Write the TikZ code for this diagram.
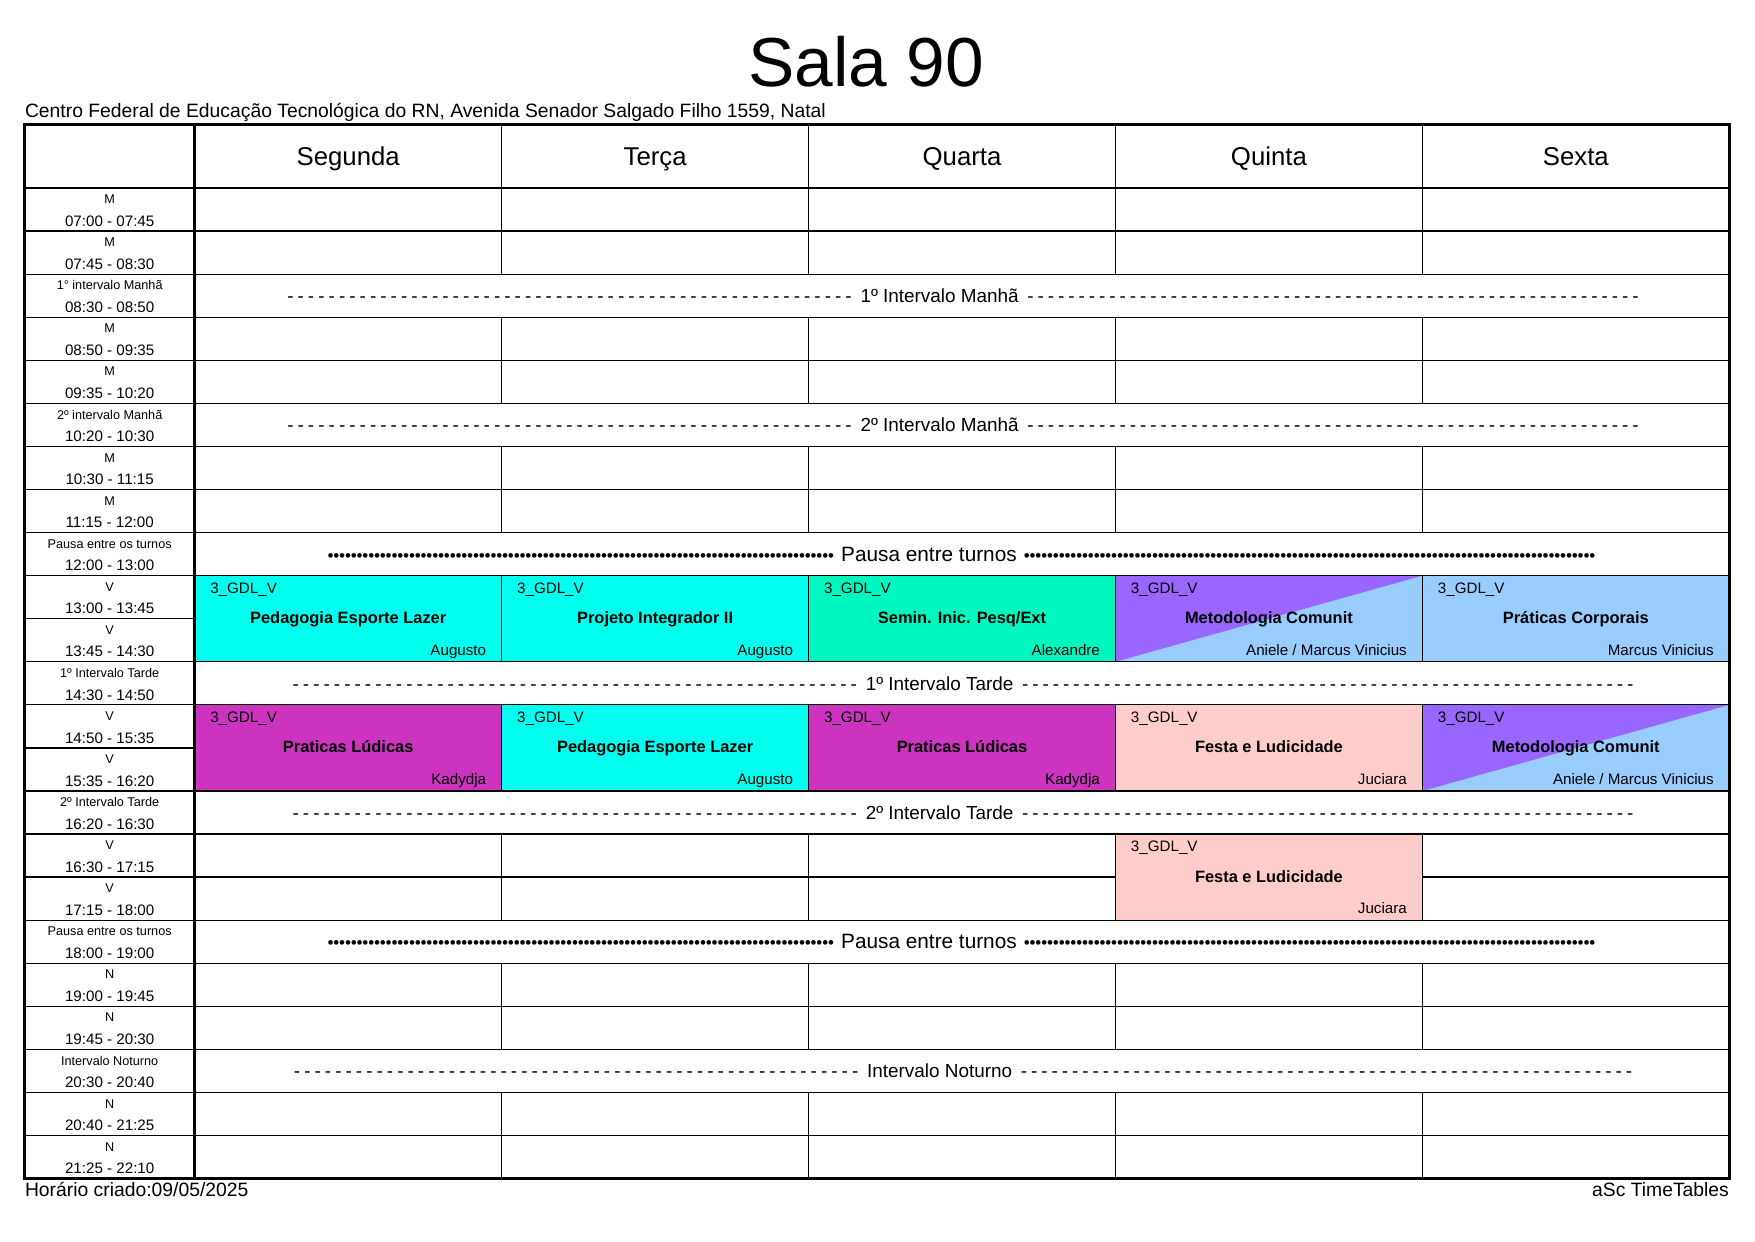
\documentclass[tikz,border=0pt]{standalone}
\usepackage{fontspec}
\setmainfont{Liberation Sans}
\usepackage{xcolor}
\usepackage{tikz}
\definecolor{ccyan}{HTML}{00FFEE}
\definecolor{cgreen}{HTML}{00F8C0}
\definecolor{cpurple}{HTML}{9966FF}
\definecolor{cblue}{HTML}{99CCFF}
\definecolor{cmagenta}{HTML}{CC33BF}
\definecolor{cpink}{HTML}{FFCCCC}

\newcommand{\fs}[1]{\fontsize{#1}{#1}\selectfont}
\newcommand{\dashes}[2]{\makebox[#1][#2]{\xleaders\hbox to 4.9pt{\hss-\hss}\hfill}}
\newcommand{\bullets}[2]{\makebox[#1][#2]{\xleaders\hbox to 2.8pt{\hss\fs{8.2}•\hss}\hfill}}

\tikzset{
	thinline/.style={line width=0.6pt},
	thickline/.style={line width=1.3pt},
	slot/.style={font=\fs{6.1}, inner sep=0pt},
	hora/.style={font=\fs{7.3}, inner sep=0pt},
	turma/.style={font=\fs{7.3}, anchor=base west, inner sep=0pt},
	disc/.style={font=\fs{7.9}\bfseries, anchor=base, inner sep=0pt},
	prof/.style={font=\fs{7.3}, anchor=base east, inner sep=0pt},
	brk/.style={font=\fs{9.1}, inner sep=0pt},
	pausa/.style={font=\fs{10}, inner sep=0pt},
	dia/.style={font=\fs{12.4}, anchor=base, inner sep=0pt},
}

\begin{document}
\begin{tikzpicture}[x=0.018941cm, y=-0.018941cm]
	\useasboundingbox (0,0) rectangle (1568,1109);

	% title and footer
	\node[font=\fs{33.4}, inner sep=0pt] (title) at (774,55) {Sala 90};
	\node[font=\fs{9.3}, anchor=base west, inner sep=0pt] (escola) at (22,105) {Centro Federal de Educação Tecnológica do RN, Avenida Senador Salgado Filho 1559, Natal};
	\node[font=\fs{9.3}, anchor=base west, inner sep=0pt] (criado) at (22,1069) {Horário criado:09/05/2025};
	\node[font=\fs{9.3}, anchor=base east, inner sep=0pt] (asc) at (1545,1069) {aSc TimeTables};

	% grid
	\foreach \i in {1,...,22}
		\draw[thinline] (22,{168+38.478*\i}) -- (1545,{168+38.478*\i});
	\foreach \c in {1,...,4}
		\draw[thinline] ({174+274.2*\c},111) -- ({174+274.2*\c},168);
	\foreach \r in {0,1,3,4,6,7,9,10,12,13,15,16,18,19,21,22}
		\foreach \c in {1,...,4}
			\draw[thinline] ({174+274.2*\c},{168+38.478*\r}) -- ({174+274.2*\c},{168+38.478*(\r+1)});

	% days
	\foreach \c/\d in {0/Segunda,1/Terça,2/Quarta,3/Quinta,4/Sexta}
		\node[dia] (d\c) at ({311.1+274.2*\c},148) {\d};

	% time column
	\foreach \i/\a/\b in {0/M/07:00 - 07:45, 1/M/07:45 - 08:30, 2/1° intervalo Manhã/08:30 - 08:50,
		3/M/08:50 - 09:35, 4/M/09:35 - 10:20, 5/2º intervalo Manhã/10:20 - 10:30,
		6/M/10:30 - 11:15, 7/M/11:15 - 12:00, 8/Pausa entre os turnos/12:00 - 13:00,
		9/V/13:00 - 13:45, 10/V/13:45 - 14:30, 11/1º Intervalo Tarde/14:30 - 14:50,
		12/V/14:50 - 15:35, 13/V/15:35 - 16:20, 14/2º Intervalo Tarde/16:20 - 16:30,
		15/V/16:30 - 17:15, 16/V/17:15 - 18:00, 17/Pausa entre os turnos/18:00 - 19:00,
		18/N/19:00 - 19:45, 19/N/19:45 - 20:30, 20/Intervalo Noturno/20:30 - 20:40,
		21/N/20:40 - 21:25, 22/N/21:25 - 22:10}{
		\node[slot] (s\i) at (98,{168+38.478*\i+10}) {\a};
		\node[hora] (h\i) at (98,{168+38.478*\i+29.5}) {\b};
	}

	% breaks
	\foreach \r/\t in {2/1º Intervalo Manhã, 5/2º Intervalo Manhã, 11/1º Intervalo Tarde,
		14/2º Intervalo Tarde, 20/Intervalo Noturno}{
		\node[brk] (b\r) at (839.5,{168+38.478*(\r+0.5)}) {\t};
		\node[brk, anchor=base east] (bl\r) at (b\r.base west) {\dashes{9.62cm}{r}\kern2.8pt};
		\node[brk, anchor=base west] (br\r) at (b\r.base east) {\kern2.8pt\dashes{10.41cm}{l}};
	}
	\foreach \r in {8,17}{
		\node[pausa] (b\r) at (830,{168+38.478*(\r+0.5)}) {Pausa entre turnos};
		\node[pausa, anchor=base east] (bl\r) at (b\r.base west) {\bullets{8.57cm}{r}\kern3pt};
		\node[pausa, anchor=base west] (br\r) at (b\r.base east) {\kern3pt\bullets{9.67cm}{l}};
	}

	% lessons
	\foreach \c/\r/\cor/\tri/\dsc/\pf/\n in {
		0/9/ccyan/none/Pedagogia Esporte Lazer/Augusto/a,
		1/9/ccyan/none/Projeto Integrador II/Augusto/b,
		2/9/cgreen/none/{Semin. Inic. Pesq/Ext}/Alexandre/c,
		3/9/cblue/cpurple/Metodologia Comunit/{Aniele / Marcus Vinicius}/d,
		4/9/cblue/none/Práticas Corporais/Marcus Vinicius/e,
		0/12/cmagenta/none/Praticas Lúdicas/Kadydja/f,
		1/12/ccyan/none/Pedagogia Esporte Lazer/Augusto/g,
		2/12/cmagenta/none/Praticas Lúdicas/Kadydja/h,
		3/12/cpink/none/Festa e Ludicidade/Juciara/i,
		4/12/cblue/cpurple/Metodologia Comunit/{Aniele / Marcus Vinicius}/j,
		3/15/cpink/none/Festa e Ludicidade/Juciara/k}{
		\fill[\cor] ({174+274.2*\c},{168+38.478*\r}) rectangle ({174+274.2*(\c+1)},{168+38.478*(\r+2)});
		\path[fill=\tri] ({174+274.2*\c},{168+38.478*(\r+2)}) -- ({174+274.2*\c},{168+38.478*\r}) -- ({174+274.2*(\c+1)},{168+38.478*\r}) -- cycle;
		\draw[thinline] ({174+274.2*\c},{168+38.478*\r}) rectangle ({174+274.2*(\c+1)},{168+38.478*(\r+2)});
		\node[turma] (t\n) at ({174+274.2*\c+13.5},{168+38.478*\r+16}) {3\_GDL\_V};
		\node[disc] (m\n) at ({174+274.2*\c+137.1},{168+38.478*\r+43}) {\dsc};
		\node[prof] (p\n) at ({174+274.2*(\c+1)-13.5},{168+38.478*\r+71}) {\pf};
	}

	% frame
	\draw[thickline] (22,111) rectangle (1545,1053);
	\draw[thickline] (22,168) -- (1545,168);
	\draw[thickline] (174,111) -- (174,1053);
\end{tikzpicture}
\end{document}
